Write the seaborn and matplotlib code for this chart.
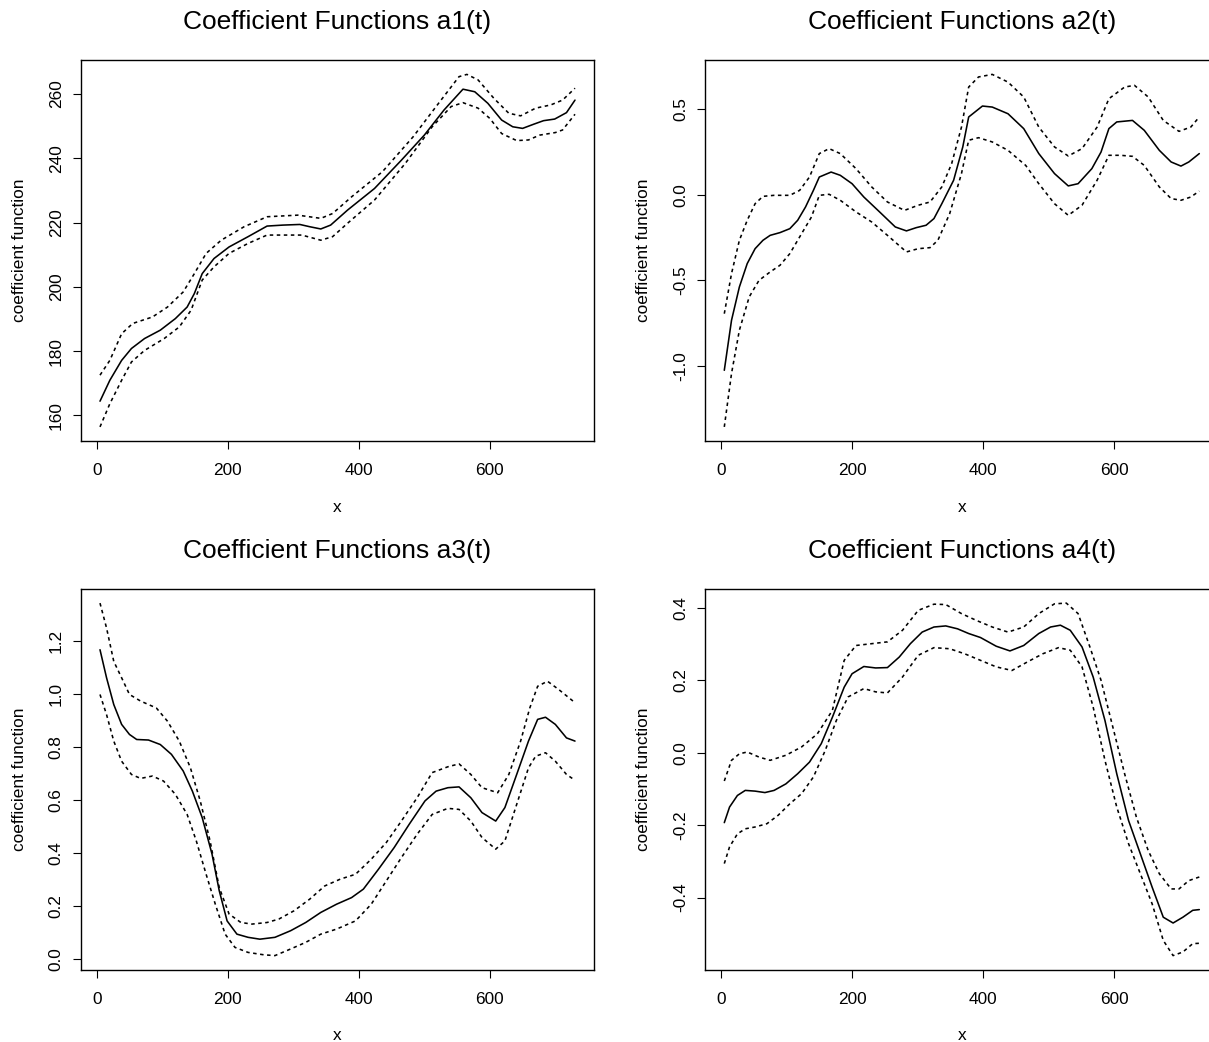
import numpy as np
import pandas as pd
import matplotlib
matplotlib.use("Agg")
import matplotlib.pyplot as plt
import seaborn as sns

# ---------------- data ----------------
titles = ["Coefficient Functions a1(t)", "Coefficient Functions a2(t)",
          "Coefficient Functions a3(t)", "Coefficient Functions a4(t)"]
x_ticks = [0, 200, 400, 600]
y_ticks_1 = [160, 180, 200, 220, 240, 260]
y_ticks_2 = [-1.0, -0.5, 0.0, 0.5]
y_ticks_3 = [0.0, 0.2, 0.4, 0.6, 0.8, 1.0, 1.2]
y_ticks_4 = [-0.4, -0.2, 0.0, 0.2, 0.4]

# panel 1 : a1(t)
p1_mid_x = [5, 20, 38, 53, 73, 97, 120, 138, 149, 161, 179, 202, 231, 260, 284, 310, 325, 342, 357, 383,
            424, 465, 500, 530, 559, 577, 597, 618, 635, 650, 667, 682, 699, 717, 730]
p1_mid = [164.4, 170.9, 177.1, 180.8, 183.9, 186.5, 190.1, 193.7, 197.9, 204.1, 208.8, 212.4, 215.6, 218.9,
          219.2, 219.4, 218.7, 218.0, 219.2, 223.9, 230.6, 239.4, 247.2, 255.0, 261.5, 260.7, 257.1, 251.9,
          249.8, 249.3, 250.6, 251.7, 252.2, 254.2, 258.1]
p1_up_x = [5, 20, 38, 55, 85, 108, 132, 149, 167, 190, 225, 260, 307, 342, 360, 389, 436, 483, 518, 553,
           565, 582, 606, 629, 647, 670, 693, 711, 730]
p1_up = [172.5, 177.1, 185.4, 188.6, 190.6, 193.7, 198.4, 204.1, 210.4, 214.5, 218.7, 221.8, 222.3, 221.3,
         222.8, 228.0, 235.8, 246.7, 256.1, 265.4, 266.1, 264.4, 258.7, 254.0, 253.2, 255.6, 256.6, 258.1, 261.8]
p1_lo_x = [5, 20, 38, 53, 73, 103, 126, 144, 161, 179, 202, 231, 260, 313, 342, 360, 383, 424, 471, 512,
           541, 559, 582, 600, 618, 641, 659, 676, 700, 711, 730]
p1_lo = [156.4, 163.6, 170.9, 176.6, 180.2, 183.9, 187.5, 192.7, 202.1, 206.2, 210.4, 213.5, 216.1, 216.1,
         214.5, 215.6, 219.8, 227.0, 238.4, 249.8, 256.1, 257.3, 255.6, 252.4, 247.7, 245.5, 245.7, 247.2,
         248.0, 248.8, 253.7]

# panel 2 : a2(t)
p2_mid_x = [5, 16, 28, 40, 52, 64, 75, 90, 105, 117, 129, 141, 150, 168, 182, 200, 218, 242, 266, 283,
            298, 313, 325, 337, 355, 369, 378, 399, 414, 438, 462, 485, 509, 530, 545, 566, 580, 592, 604,
            628, 646, 669, 687, 702, 714, 730]
p2_mid = [-1.025, -0.733, -0.538, -0.401, -0.314, -0.265, -0.236, -0.220, -0.197, -0.148, -0.070, 0.027,
          0.105, 0.134, 0.115, 0.066, -0.012, -0.099, -0.187, -0.210, -0.191, -0.177, -0.138, -0.051, 0.086,
          0.281, 0.456, 0.520, 0.514, 0.475, 0.388, 0.242, 0.125, 0.053, 0.066, 0.154, 0.251, 0.388, 0.427,
          0.436, 0.378, 0.261, 0.193, 0.169, 0.193, 0.242]
p2_up_x = [5, 16, 28, 40, 52, 64, 81, 105, 120, 135, 150, 165, 182, 206, 230, 254, 280, 301, 319, 337,
           352, 367, 378, 393, 414, 438, 462, 485, 509, 530, 551, 574, 592, 616, 631, 652, 675, 699, 717, 730]
p2_up = [-0.694, -0.460, -0.265, -0.148, -0.051, -0.008, -0.002, -0.002, 0.027, 0.105, 0.242, 0.271,
         0.242, 0.154, 0.047, -0.041, -0.090, -0.060, -0.041, 0.047, 0.183, 0.397, 0.631, 0.690, 0.705,
         0.660, 0.573, 0.397, 0.281, 0.228, 0.271, 0.397, 0.563, 0.631, 0.641, 0.573, 0.436, 0.372, 0.397, 0.456]
p2_lo_x = [5, 16, 28, 43, 58, 75, 90, 105, 123, 138, 150, 165, 182, 206, 230, 254, 283, 301, 319, 331,
           349, 367, 378, 393, 414, 438, 465, 485, 509, 530, 551, 574, 592, 610, 628, 646, 669, 687, 702,
           717, 730]
p2_lo = [-1.356, -1.044, -0.791, -0.596, -0.499, -0.450, -0.411, -0.343, -0.226, -0.129, -0.002, 0.004,
         -0.031, -0.099, -0.158, -0.236, -0.333, -0.314, -0.308, -0.265, -0.109, 0.125, 0.320, 0.335, 0.310,
         0.261, 0.173, 0.066, -0.051, -0.119, -0.060, 0.086, 0.232, 0.232, 0.226, 0.173, 0.047, -0.021,
         -0.031, -0.012, 0.023]

# panel 3 : a3(t)
p3_mid_x = [5, 15, 26, 38, 50, 61, 79, 97, 114, 132, 146, 161, 176, 187, 199, 214, 231, 249, 272, 296,
            319, 342, 366, 389, 407, 430, 454, 477, 501, 518, 536, 553, 571, 588, 609, 623, 641, 659, 673,
            685, 700, 717, 730]
p3_mid = [1.168, 1.062, 0.961, 0.886, 0.848, 0.829, 0.827, 0.810, 0.773, 0.710, 0.634, 0.534, 0.396,
          0.258, 0.144, 0.094, 0.082, 0.075, 0.082, 0.107, 0.138, 0.176, 0.207, 0.232, 0.264, 0.339, 0.421,
          0.509, 0.597, 0.634, 0.647, 0.650, 0.609, 0.553, 0.521, 0.572, 0.697, 0.823, 0.905, 0.913, 0.886,
          0.835, 0.823]
p3_up_x = [5, 15, 26, 38, 50, 67, 91, 108, 126, 143, 158, 173, 187, 202, 220, 237, 260, 278, 301, 325,
           348, 372, 395, 419, 442, 465, 489, 512, 536, 553, 571, 588, 612, 629, 647, 661, 673, 688, 705, 730]
p3_up = [1.344, 1.250, 1.124, 1.062, 0.999, 0.974, 0.948, 0.898, 0.823, 0.722, 0.597, 0.446, 0.270,
         0.170, 0.138, 0.132, 0.138, 0.151, 0.182, 0.226, 0.276, 0.302, 0.320, 0.377, 0.440, 0.521, 0.609,
         0.704, 0.726, 0.737, 0.697, 0.647, 0.628, 0.697, 0.823, 0.948, 1.030, 1.049, 1.018, 0.968]
p3_lo_x = [5, 15, 26, 38, 53, 67, 85, 102, 120, 138, 152, 167, 181, 196, 211, 231, 255, 272, 296, 319,
           342, 366, 395, 419, 442, 465, 489, 512, 536, 553, 571, 588, 609, 623, 641, 659, 670, 685, 700,
           717, 730]
p3_lo = [0.999, 0.923, 0.823, 0.747, 0.697, 0.682, 0.691, 0.672, 0.622, 0.546, 0.446, 0.320, 0.207,
         0.094, 0.044, 0.025, 0.016, 0.013, 0.038, 0.063, 0.094, 0.113, 0.144, 0.207, 0.295, 0.383, 0.471,
         0.546, 0.569, 0.565, 0.521, 0.459, 0.415, 0.446, 0.584, 0.722, 0.766, 0.779, 0.747, 0.697, 0.675]

# panel 4 : a4(t)
p4_mid_x = [5, 13, 25, 37, 52, 67, 81, 99, 117, 135, 153, 170, 188, 200, 218, 236, 254, 272, 289, 307,
            325, 343, 361, 378, 396, 420, 441, 462, 485, 503, 518, 533, 551, 568, 586, 604, 622, 640, 658,
            675, 690, 705, 720, 730]
p4_mid = [-0.193, -0.150, -0.118, -0.104, -0.106, -0.110, -0.104, -0.086, -0.058, -0.026, 0.025, 0.098,
          0.181, 0.218, 0.238, 0.234, 0.235, 0.264, 0.301, 0.333, 0.347, 0.350, 0.342, 0.329, 0.318, 0.294,
          0.281, 0.296, 0.329, 0.347, 0.352, 0.338, 0.292, 0.209, 0.089, -0.058, -0.187, -0.279, -0.371,
          -0.454, -0.470, -0.454, -0.435, -0.433]
p4_up_x = [5, 16, 28, 40, 58, 75, 99, 123, 147, 170, 188, 206, 230, 254, 277, 301, 325, 343, 367, 390,
           414, 438, 462, 485, 509, 527, 545, 563, 580, 598, 616, 634, 652, 669, 687, 699, 714, 730]
p4_up = [-0.078, -0.021, -0.003, 0.002, -0.012, -0.021, -0.007, 0.016, 0.052, 0.117, 0.255, 0.296, 0.301,
         0.306, 0.338, 0.393, 0.410, 0.409, 0.384, 0.365, 0.347, 0.333, 0.347, 0.384, 0.411, 0.413, 0.384,
         0.292, 0.200, 0.071, -0.058, -0.178, -0.270, -0.334, -0.376, -0.376, -0.353, -0.343]
p4_lo_x = [5, 13, 25, 37, 52, 70, 87, 105, 123, 141, 159, 176, 194, 218, 236, 254, 277, 301, 325, 349,
           372, 396, 420, 444, 467, 491, 515, 533, 551, 568, 586, 604, 622, 640, 658, 675, 690, 705, 720, 730]
p4_lo = [-0.306, -0.260, -0.224, -0.210, -0.205, -0.196, -0.173, -0.141, -0.113, -0.067, 0.006, 0.089,
         0.154, 0.177, 0.168, 0.165, 0.209, 0.269, 0.290, 0.287, 0.273, 0.255, 0.237, 0.227, 0.250, 0.273,
         0.290, 0.283, 0.237, 0.126, -0.021, -0.150, -0.251, -0.334, -0.417, -0.518, -0.560, -0.550, -0.527,
         -0.526]

# ---------------- styling ----------------
sns.set_theme(style="ticks")
plt.rcParams["font.family"] = ["Liberation Sans", "DejaVu Sans"]
plt.rcParams["axes.unicode_minus"] = False
plt.rcParams["text.color"] = "black"
plt.rcParams["axes.labelcolor"] = "black"
plt.rcParams["xtick.color"] = "black"
plt.rcParams["ytick.color"] = "black"
plt.rcParams["axes.edgecolor"] = "black"
plt.rcParams["lines.solid_joinstyle"] = "round"
plt.rcParams["lines.dash_joinstyle"] = "round"

W, H = 1209, 1042
fig = plt.figure(figsize=(W / 100, H / 100), dpi=100)
fig.patch.set_facecolor("white")

# axes boxes in pixel coordinates (left, right, top, bottom)
cols = [(81, 594), (705.3, 1218.3)]
rows = [(60.3, 441.0), (589.0, 969.7)]

panels = [
    (p1_mid_x, p1_mid, p1_up_x, p1_up, p1_lo_x, p1_lo, y_ticks_1, "{:.0f}"),
    (p2_mid_x, p2_mid, p2_up_x, p2_up, p2_lo_x, p2_lo, y_ticks_2, "{:.1f}"),
    (p3_mid_x, p3_mid, p3_up_x, p3_up, p3_lo_x, p3_lo, y_ticks_3, "{:.1f}"),
    (p4_mid_x, p4_mid, p4_up_x, p4_up, p4_lo_x, p4_lo, y_ticks_4, "{:.1f}"),
]

LW = 1.15
for i, (mx, my, ux, uy, lx, ly, yt, fmt) in enumerate(panels):
    r, c = divmod(i, 2)
    l, rr = cols[c]
    t, b = rows[r]
    ax = fig.add_axes([l / W, (H - b) / H, (rr - l) / W, (b - t) / H])
    ax.set_facecolor("white")

    sns.lineplot(x=mx, y=my, ax=ax, color="black", linewidth=LW,
                 estimator=None, sort=False)
    sns.lineplot(x=ux, y=uy, ax=ax, color="black", linewidth=LW,
                 linestyle=(0, (2.2, 2.2)), estimator=None, sort=False)
    sns.lineplot(x=lx, y=ly, ax=ax, color="black", linewidth=LW,
                 linestyle=(0, (2.2, 2.2)), estimator=None, sort=False)

    ax.margins(x=0.04, y=0.04)
    ax.set_xticks(x_ticks)
    ax.set_xticklabels([str(v) for v in x_ticks])
    ax.set_yticks(yt)
    ax.set_yticklabels([fmt.format(v) for v in yt], rotation=90, va="center")

    for s in ax.spines.values():
        s.set_visible(True)
        s.set_linewidth(1.0)
        s.set_color("black")
    ax.tick_params(axis="both", direction="out", length=5.5, width=0.8,
                   labelsize=12.4, colors="black")
    ax.tick_params(axis="x", pad=10.5)
    ax.tick_params(axis="y", pad=7)

    ax.set_xlabel("x", fontsize=12.4, labelpad=15.5)
    ax.set_ylabel("coefficient function", fontsize=12.4, labelpad=15.5)
    ax.set_title(titles[i], fontsize=19, pad=22.3)
    ax.grid(False)

fig.savefig("out.png", dpi=100, facecolor="white")
